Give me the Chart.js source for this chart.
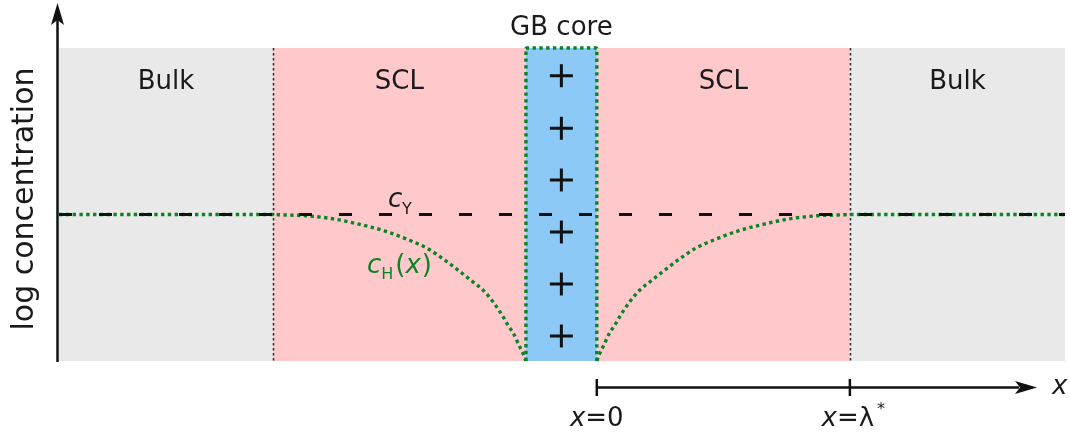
<!DOCTYPE html>
<html>
<head>
<meta charset="utf-8">
<script src="https://cdn.jsdelivr.net/npm/chart.js@4/dist/chart.umd.min.js"></script>
<style>
  html, body { margin: 0; padding: 0; background: #ffffff; }
  #wrap { width: 1070px; height: 434px; }
</style>
</head>
<body>
<div id="wrap"><canvas id="c" width="1070" height="434"></canvas></div>
<script>
// Position along x in units of the screening length λ*, x = 0 at the core edge.
const xMin = -2.125;
const xMax = 1.85;
const coreLeft = -0.28;
const coreRight = 0;
const lambdaStar = 1;

// Regions across the profile: edges and names.
const regionEdges = [xMin, coreLeft - lambdaStar, coreLeft, coreRight, lambdaStar, xMax];
const regionNames = ['Bulk', 'SCL', 'GB core', 'SCL', 'Bulk'];

// Bulk (dopant) level, log scale normalised to the plotted range 0..1.
const cY = 0.468;

// Proton concentration profile: distance from the core edge vs log c_H.
const depth = [0, 0.012, 0.025, 0.05, 0.07, 0.09, 0.13, 0.17, 0.21, 0.26, 0.32, 0.39, 0.47, 0.56, 0.66, 0.76, 0.87, 0.97, 1.0];
const logCH = [0, 0.025, 0.046, 0.089, 0.113, 0.141, 0.189, 0.227, 0.253, 0.285, 0.322, 0.360, 0.389, 0.416, 0.437, 0.454, 0.464, 0.467, 0.468];

// Positive core charges, stacked along the core.
const chargeLevels = [0.911, 0.744, 0.578, 0.412, 0.246, 0.080];

// Tick labels of the lower position axis.
const tickValues = [0, lambdaStar];

const GREEN = '#0b8427';
const FONT = "'DejaVu Sans', Verdana, sans-serif";

// Left branch: bulk level, then the depletion towards the core edge.
const leftBranch = [{ x: xMin, y: cY }];
for (let i = depth.length - 1; i >= 0; i--) leftBranch.push({ x: coreLeft - depth[i], y: logCH[i] });
// Right branch: from the core edge out into the bulk.
const rightBranch = [];
for (let i = 0; i < depth.length; i++) rightBranch.push({ x: coreRight + depth[i], y: logCH[i] });
rightBranch.push({ x: xMax, y: cY });
// Outline of the core (enriched in protons).
const coreOutline = [
  { x: coreLeft, y: 0 }, { x: coreLeft, y: 1 },
  { x: coreRight, y: 1 }, { x: coreRight, y: 0 }
];

const chargePts = chargeLevels.map(v => ({ x: (coreLeft + coreRight) / 2, y: v }));

const regionPlugin = {
  id: 'regions',
  beforeDatasetsDraw(chart) {
    const { ctx, chartArea: a, scales: { x, y } } = chart;
    const fills = ['#e9e9e9', '#ffc9cc', '#8cc9f7', '#ffc9cc', '#e9e9e9'];
    ctx.save();
    for (let i = 0; i < regionNames.length; i++) {
      const l = x.getPixelForValue(regionEdges[i]);
      const r = x.getPixelForValue(regionEdges[i + 1]);
      ctx.fillStyle = fills[i];
      ctx.fillRect(l, a.top, r - l, a.bottom - a.top);
    }
    // dotted SCL / bulk boundaries
    ctx.strokeStyle = '#333333';
    ctx.lineWidth = 1.6;
    ctx.setLineDash([2.5, 2.5]);
    [regionEdges[1], regionEdges[4]].forEach(v => {
      const px = Math.round(x.getPixelForValue(v)) + 0.5;
      ctx.beginPath();
      ctx.moveTo(px, a.top);
      ctx.lineTo(px, a.bottom);
      ctx.stroke();
    });
    ctx.setLineDash([]);
    // region names
    ctx.fillStyle = '#1a1a1a';
    ctx.font = '26px ' + FONT;
    ctx.textAlign = 'center';
    ctx.textBaseline = 'alphabetic';
    for (let i = 0; i < regionNames.length; i++) {
      const cx = (x.getPixelForValue(regionEdges[i]) + x.getPixelForValue(regionEdges[i + 1])) / 2;
      if (regionNames[i] === 'GB core') {
        ctx.fillText(regionNames[i], cx, a.top - 13);
      } else {
        ctx.fillText(regionNames[i], cx, a.top + 41);
      }
    }
    ctx.restore();
  },
  afterDraw(chart) {
    const { ctx, chartArea: a, scales: { x, y } } = chart;
    ctx.save();
    ctx.strokeStyle = '#111111';
    ctx.fillStyle = '#111111';
    ctx.lineWidth = 2.5;

    // vertical axis with arrow
    const ax = a.left - 1.5;
    ctx.beginPath();
    ctx.moveTo(ax, a.bottom + 1);
    ctx.lineTo(ax, 20);
    ctx.stroke();
    ctx.beginPath();
    ctx.moveTo(ax, 3);
    ctx.lineTo(ax - 6.5, 25);
    ctx.lineTo(ax, 20);
    ctx.lineTo(ax + 6.5, 25);
    ctx.closePath();
    ctx.fill();

    // position axis below the plot, starting at x = 0
    const ay = a.bottom + 26.5;
    const x0 = x.getPixelForValue(tickValues[0]);
    const tipX = 1037;
    ctx.beginPath();
    ctx.moveTo(x0, ay);
    ctx.lineTo(tipX - 18, ay);
    ctx.stroke();
    ctx.beginPath();
    ctx.moveTo(tipX, ay);
    ctx.lineTo(tipX - 22, ay - 6.5);
    ctx.lineTo(tipX - 17, ay);
    ctx.lineTo(tipX - 22, ay + 6.5);
    ctx.closePath();
    ctx.fill();
    tickValues.forEach(v => {
      const px = x.getPixelForValue(v);
      ctx.beginPath();
      ctx.moveTo(px, ay - 8.5);
      ctx.lineTo(px, ay + 8.5);
      ctx.stroke();
    });

    // axis titles
    ctx.fillStyle = '#1a1a1a';
    ctx.textBaseline = 'alphabetic';
    ctx.textAlign = 'left';
    ctx.font = 'italic 26px ' + FONT;
    ctx.fillText('x', 1052, ay + 6);

    ctx.save();
    ctx.translate(33, 199);
    ctx.rotate(-Math.PI / 2);
    ctx.textAlign = 'center';
    ctx.font = '30px ' + FONT;
    ctx.fillText('log concentration', 0, 0);
    ctx.restore();

    // tick labels: x=0 and x=λ*
    const drawRuns = (runs, cx, base) => {
      let w = 0;
      runs.forEach(r => { ctx.font = r.f; w += ctx.measureText(r.t).width; });
      let px = cx - w / 2;
      runs.forEach(r => {
        ctx.font = r.f;
        ctx.fillText(r.t, px, base + (r.dy || 0));
        px += ctx.measureText(r.t).width;
      });
    };
    const it = 'italic 26px ' + FONT, rg = '26px ' + FONT;
    ctx.textAlign = 'left';
    drawRuns([{ t: 'x', f: it }, { t: '=0', f: rg }], x.getPixelForValue(tickValues[0]), 426);
    drawRuns([{ t: 'x', f: it }, { t: '=λ', f: rg }], x.getPixelForValue(tickValues[1]) - 2, 426);
    ctx.font = '16px ' + FONT;
    ctx.fillText('*', x.getPixelForValue(tickValues[1]) + 27, 414);

    // c_Y label
    ctx.font = it;
    ctx.fillText('c', 388, 207);
    ctx.font = '16px ' + FONT;
    ctx.fillText('Y', 402, 214);

    // c_H(x) label
    ctx.fillStyle = GREEN;
    let px = 367;
    ctx.font = it; ctx.fillText('c', px, 273); px += ctx.measureText('c').width;
    ctx.font = '16px ' + FONT; ctx.fillText('H', px, 279); px += ctx.measureText('H').width + 2;
    ctx.font = rg; ctx.fillText('(', px, 273); px += ctx.measureText('(').width;
    ctx.font = it; ctx.fillText('x', px, 273); px += ctx.measureText('x').width + 1;
    ctx.font = rg; ctx.fillText(')', px, 273);
    ctx.restore();
  }
};

const dotted = {
  type: 'line',
  borderColor: GREEN,
  borderWidth: 3.4,
  borderDash: [3.4, 3.4],
  borderCapStyle: 'butt',
  borderJoinStyle: 'bevel',
  pointRadius: 0,
  showLine: true,
  clip: false
};

new Chart(document.getElementById('c'), {
  type: 'scatter',
  data: {
    datasets: [
      {
        label: 'cY',
        type: 'line',
        data: [{ x: xMin, y: cY }, { x: xMax, y: cY }],
        borderColor: '#111111',
        borderWidth: 3,
        borderDash: [13, 27],
        borderCapStyle: 'butt',
        pointRadius: 0,
        showLine: true,
        clip: false
      },
      Object.assign({ label: 'cH left', data: leftBranch, cubicInterpolationMode: 'monotone' }, dotted),
      Object.assign({ label: 'cH core', data: coreOutline, tension: 0 }, dotted),
      Object.assign({ label: 'cH right', data: rightBranch, cubicInterpolationMode: 'monotone' }, dotted),
      {
        label: 'charges',
        data: chargePts,
        pointStyle: 'cross',
        pointRadius: 11.5,
        pointBorderWidth: 3,
        pointBorderColor: '#111111',
        borderColor: '#111111',
        backgroundColor: '#111111',
        clip: false
      }
    ]
  },
  options: {
    responsive: false,
    animation: false,
    events: [],
    layout: { autoPadding: false, padding: { left: 59, right: 5, top: 48, bottom: 73 } },
    scales: {
      x: { type: 'linear', min: xMin, max: xMax, display: false },
      y: { type: 'linear', min: 0, max: 1, display: false }
    },
    plugins: {
      legend: { display: false },
      tooltip: { enabled: false }
    }
  },
  plugins: [regionPlugin]
});
</script>
</body>
</html>
